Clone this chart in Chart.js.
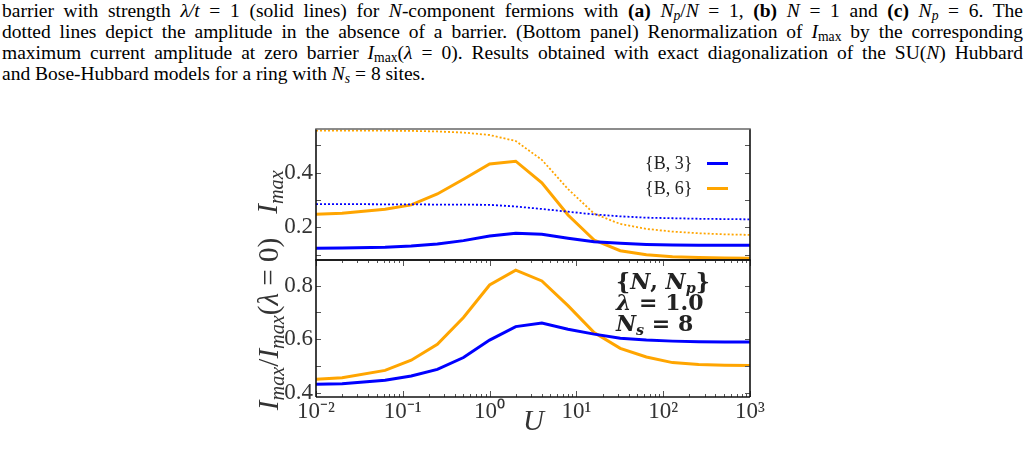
<!DOCTYPE html>
<html>
<head>
<meta charset="utf-8">
<script src="https://cdn.jsdelivr.net/npm/chart.js@4.4.1/dist/chart.umd.min.js"></script>
<style>
  html, body { margin: 0; padding: 0; background: #fff; width: 1029px; height: 460px; overflow: hidden; }
  .cap { position: absolute; left: 2px; top: 0; width: 1021px; font-family: "Liberation Serif", serif; font-size: 19.5px; line-height: 21px; color: #000; }
  .cap div { text-align: justify; text-align-last: justify; white-space: nowrap; }
  .cap div.last { text-align: left; text-align-last: left; }
  .cap i { font-style: italic; }
  .cap sub { font-size: 0.7em; vertical-align: -0.25em; line-height: 0; }
  canvas { position: absolute; left: 0; top: 0; }
  .ttl { position: absolute; font-family: "Liberation Serif", serif; font-size: 29px; color: #333; white-space: nowrap; transform-origin: center center; }
  .ttl sub { font-size: 0.7em; vertical-align: -0.3em; line-height: 0; }
  .rot { transform: translate(-50%, -50%) rotate(-90deg); }
  .legend { position: absolute; left: 645px; top: 151px; font-family: "Liberation Serif", serif; font-size: 18px; color: #222; }
  .legend .row { display: flex; align-items: center; height: 25px; justify-content: flex-end; }
  .legend .sw { display: inline-block; width: 21px; height: 3px; margin-left: 15px; }
  .note { position: absolute; left: 616px; top: 271px; font-family: "DejaVu Serif", serif; font-weight: bold; font-size: 22px; line-height: 21px; color: #222; }
  .note sub { font-size: 0.65em; vertical-align: -0.3em; line-height: 0; }
</style>
</head>
<body>
<div class="cap">
  <div>barrier with strength <i>λ/t</i> = 1 (solid lines) for <i>N</i>-component fermions with <b>(a)</b> <i>N<sub>p</sub></i>/<i>N</i> = 1, <b>(b)</b> <i>N</i> = 1 and <b>(c)</b> <i>N<sub>p</sub></i> = 6. The</div>
  <div>dotted lines depict the amplitude in the absence of a barrier. (Bottom panel) Renormalization of <i>I</i><sub>max</sub> by the corresponding</div>
  <div>maximum current amplitude at zero barrier <i>I</i><sub>max</sub>(<i>λ</i> = 0). Results obtained with exact diagonalization of the SU(<i>N</i>) Hubbard</div>
  <div class="last">and Bose-Hubbard models for a ring with <i>N<sub>s</sub></i> = 8 sites.</div>
</div>
<canvas id="cTop" width="1029" height="460"></canvas>
<canvas id="cBot" width="1029" height="460"></canvas>
<div class="ttl rot" style="left:267px; top:192px;"><i>I<sub>max</sub></i></div>
<div class="ttl rot" style="left:268px; top:324px;"><i>I<sub>max</sub></i>/<i>I<sub>max</sub></i>(<i>λ</i> = 0)</div>
<div class="ttl" style="left:523px; top:404px;"><i>U</i></div>
<div class="legend" id="legend"></div>
<div class="note">
  <div>{<i>N</i>, <i>N<sub>p</sub></i>}</div>
  <div><i>λ</i> = 1.0</div>
  <div><i>N<sub>s</sub></i> = 8</div>
</div>
<script>
// ---- data ----
const U = [0.01, 0.02, 0.0625, 0.125, 0.25, 0.5, 1, 2, 4, 8, 16, 32, 64, 128, 256, 512, 1000];
const seriesLabels = ['{B, 3}', '{B, 6}'];
const imaxB3 = [0.123, 0.124, 0.127, 0.131, 0.139, 0.151, 0.168, 0.178, 0.174, 0.160, 0.147, 0.141, 0.137, 0.135, 0.134, 0.134, 0.134];
const imaxB6 = [0.248, 0.251, 0.266, 0.282, 0.322, 0.376, 0.432, 0.442, 0.363, 0.245, 0.153, 0.114, 0.099, 0.092, 0.089, 0.087, 0.086];
const imax0B3 = [0.285, 0.285, 0.284, 0.284, 0.283, 0.283, 0.282, 0.276, 0.267, 0.257, 0.247, 0.240, 0.235, 0.233, 0.231, 0.230, 0.229];
const imax0B6 = [0.554, 0.554, 0.554, 0.553, 0.551, 0.547, 0.538, 0.516, 0.447, 0.340, 0.250, 0.212, 0.194, 0.184, 0.178, 0.174, 0.172];
const ratioB3 = [0.432, 0.434, 0.447, 0.463, 0.488, 0.532, 0.597, 0.647, 0.660, 0.637, 0.619, 0.604, 0.597, 0.593, 0.591, 0.590, 0.590];
const ratioB6 = [0.451, 0.457, 0.484, 0.522, 0.581, 0.681, 0.802, 0.857, 0.817, 0.725, 0.625, 0.566, 0.534, 0.513, 0.506, 0.503, 0.502];
const xTickValues = [0.01, 0.1, 1, 10, 100, 1000];
const xTickLabels = ['10⁻²', '10⁻¹', '10⁰', '10¹', '10²', '10³'];
const yTopTicks = [0.1, 0.2, 0.3, 0.4, 0.5];
const yTopLabels = ['', '0.2', '', '0.4', ''];
const yBotTicks = [0.4, 0.5, 0.6, 0.7, 0.8];
const yBotLabels = ['0.4', '', '0.6', '', '0.8'];
const colors = ['#0000ff', '#ffa500'];

const pts = arr => U.map((u, i) => ({x: u, y: arr[i]}));

const frameTicks = {
  id: 'frameTicks',
  afterDraw(chart, args, o) {
    const {ctx, chartArea: a, scales} = chart;
    ctx.save();
    ctx.strokeStyle = '#555';
    ctx.lineWidth = 1;
    const seg = (x1, y1, x2, y2) => { ctx.beginPath(); ctx.moveTo(x1, y1); ctx.lineTo(x2, y2); ctx.stroke(); };
    o.yTicks.forEach(v => {
      const py = Math.round(scales.y.getPixelForValue(v)) + 0.5;
      seg(a.left, py, a.left + 5, py);
      seg(a.right, py, a.right - 5, py);
    });
    if (o.xTicks) {
      const xs = scales.x;
      for (let e = -2; e <= 3; e++) {
        for (let m = 1; m <= 9; m++) {
          const v = m * Math.pow(10, e);
          if (v > 1000 + 1e-9) continue;
          const px = Math.round(xs.getPixelForValue(v)) + 0.5;
          const len = m === 1 ? 6 : 3;
          seg(px, a.bottom, px, a.bottom - len);
          seg(px, a.top, px, a.top + len);
        }
      }
    }
    ctx.lineWidth = 1.6;
    ctx.strokeStyle = '#111';
    seg(a.left, a.top, a.left, a.bottom);
    seg(a.right, a.top, a.right, a.bottom);
    seg(a.left, a.bottom, a.right, a.bottom);
    ctx.strokeStyle = o.topColor;
    seg(a.left - 0.8, a.top, a.right + 0.8, a.top);
    ctx.restore();
  }
};

const tickFont = {family: 'Liberation Serif', size: 23};

function yScale(min, max, ticks, labels) {
  return {
    type: 'linear', position: 'left', min, max,
    afterFit: s => { s.width = 60; },
    afterBuildTicks: s => { s.ticks = ticks.map(v => ({value: v})); },
    grid: {display: false, drawTicks: false},
    border: {display: false},
    ticks: {
      color: '#333', font: tickFont, padding: 3,
      callback: (v) => { const i = ticks.findIndex(t => Math.abs(t - v) < 1e-9); return i >= 0 ? labels[i] : ''; }
    }
  };
}

function lineDs(label, arr, color, dotted) {
  return {
    label, data: pts(arr), borderColor: color, backgroundColor: color,
    borderWidth: dotted ? 1.8 : 3, borderDash: dotted ? [2, 2] : [],
    pointRadius: 0, tension: 0, fill: false, borderCapStyle: 'butt'
  };
}

const common = {
  responsive: false, animation: false, devicePixelRatio: 1,
  plugins: {legend: {display: false}, tooltip: {enabled: false}}
};

const chartTop = new Chart(document.getElementById('cTop'), {
  type: 'line',
  data: {datasets: [
    lineDs(seriesLabels[0] + ' λ=0', imax0B3, colors[0], true),
    lineDs(seriesLabels[1] + ' λ=0', imax0B6, colors[1], true),
    lineDs(seriesLabels[0], imaxB3, colors[0], false),
    lineDs(seriesLabels[1], imaxB6, colors[1], false)
  ]},
  options: Object.assign({}, common, {
    layout: {autoPadding: false, padding: {left: 256, right: 279, top: 129, bottom: 200}},
    scales: {
      x: {type: 'logarithmic', min: 0.01, max: 1000, display: false},
      y: yScale(0.08, 0.56, yTopTicks, yTopLabels)
    },
    plugins: Object.assign({}, common.plugins, {frameTicks: {yTicks: yTopTicks, xTicks: false, topColor: '#666'}})
  }),
  plugins: [frameTicks]
});

const chartBot = new Chart(document.getElementById('cBot'), {
  type: 'line',
  data: {datasets: [
    lineDs(seriesLabels[0], ratioB3, colors[0], false),
    lineDs(seriesLabels[1], ratioB6, colors[1], false)
  ]},
  options: Object.assign({}, common, {
    layout: {autoPadding: false, padding: {left: 256, right: 279, top: 260, bottom: 33}},
    scales: {
      x: {
        type: 'logarithmic', min: 0.01, max: 1000,
        afterFit: s => { s.height = 30; },
        afterBuildTicks: s => { s.ticks = xTickValues.map(v => ({value: v})); },
        grid: {display: false, drawTicks: false},
        border: {display: false},
        ticks: {
          color: '#333', font: tickFont, padding: 1, maxRotation: 0, autoSkip: false,
          callback: (v) => { const i = xTickValues.findIndex(t => Math.abs(Math.log10(t) - Math.log10(v)) < 1e-6); return i >= 0 ? xTickLabels[i] : ''; }
        }
      },
      y: yScale(0.385, 0.895, yBotTicks, yBotLabels)
    },
    plugins: Object.assign({}, common.plugins, {frameTicks: {yTicks: yBotTicks, xTicks: true, topColor: '#111'}})
  }),
  plugins: [frameTicks]
});

// legend built from the solid datasets of the top chart
const lg = document.getElementById('legend');
chartTop.data.datasets.filter(d => d.borderDash.length === 0).forEach(d => {
  const row = document.createElement('div');
  row.className = 'row';
  const t = document.createElement('span');
  t.textContent = d.label;
  const sw = document.createElement('span');
  sw.className = 'sw';
  sw.style.background = d.borderColor;
  row.appendChild(t); row.appendChild(sw);
  lg.appendChild(row);
});
</script>
</body>
</html>
